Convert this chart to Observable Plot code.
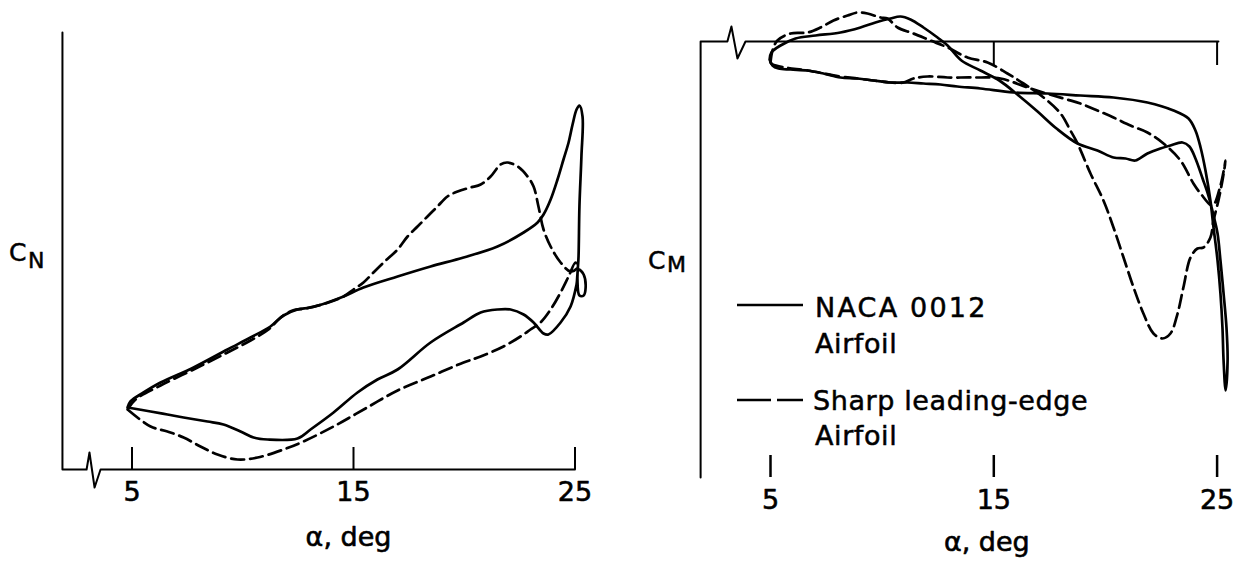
<!DOCTYPE html>
<html>
<head>
<meta charset="utf-8">
<script src="https://cdn.jsdelivr.net/npm/d3@7"></script>
<script src="https://cdn.jsdelivr.net/npm/@observablehq/plot@0.6"></script>
<style>
  html, body { margin: 0; padding: 0; background: #fff; }
  #wrap { position: relative; width: 1233px; height: 563px; overflow: hidden;
          font-family: "DejaVu Sans", sans-serif; color: #000; }
  #left, #right { position: absolute; top: 0; }
  #left { left: 0; }
  #right { left: 620px; }
  .t { position: absolute; white-space: nowrap; line-height: 1; -webkit-text-stroke: 0.5px #000; }
  .big { font-size: 27px; letter-spacing: 0.6px; }
  .sym { font-size: 25px; }
  .sub { font-size: 22px; }
</style>
</head>
<body>
<div id="wrap">
  <div id="left"></div>
  <div id="right"></div>
  <div class="t sym" style="left:9px;top:240px;">C</div>
  <div class="t sub" style="left:28px;top:250px;">N</div>
  <div class="t sym" style="left:648px;top:248px;">C</div>
  <div class="t sub" style="left:667px;top:254px;">M</div>
  <svg class="t" style="left:735px;top:295px;" width="72" height="20">
    <line x1="2" y1="10" x2="68" y2="10" stroke="#000" stroke-width="2.6"/>
  </svg>
  <div class="t big" id="lg1a" style="left:815px;top:294px;letter-spacing:2.2px;"></div>
  <div class="t big" id="lg1b" style="left:815px;top:330px;"></div>
  <svg class="t" style="left:735px;top:390px;" width="72" height="20">
    <line x1="2" y1="10" x2="68" y2="10" stroke="#000" stroke-width="2.6" stroke-dasharray="34,6"/>
  </svg>
  <div class="t big" id="lg2a" style="left:813px;top:387px;"></div>
  <div class="t big" id="lg2b" style="left:815px;top:422px;"></div>
</div>
<script>
// ---- data ----
const alphaTicks = [5, 15, 25];
const xLabel = "α, deg";
const legendLines = [["NACA 0012", "Airfoil"], ["Sharp leading-edge", "Airfoil"]];

// Left panel: normal-force coefficient loop, NACA 0012 (solid)
const cnAlphaSolid = [4.80,4.93,5.52,6.29,7.78,9.31,10.35,11.25,11.84,12.47,13.06,13.83,14.55,15.45,16.99,18.48,19.97,21.50,22.68,23.31,23.58,23.90,24.21,24.48,24.71,24.89,25.07,25.20,25.34,25.29,25.20,25.16,25.11,25.20,25.39,25.48,25.39,25.16,25.07,24.80,24.35,23.80,23.58,23.13,22.68,22.09,21.50,20.74,19.97,18.48,16.99,16.08,15.18,14.10,13.06,12.47,11.12,10.49,9.90,9.13,8.41,7.33,6.60,5.84,4.80];
const cnSolid = [0.31,0.34,0.385,0.435,0.51,0.60,0.66,0.715,0.77,0.80,0.81,0.835,0.865,0.91,0.965,1.015,1.06,1.115,1.185,1.235,1.275,1.35,1.45,1.55,1.635,1.725,1.80,1.82,1.765,1.565,1.315,1.065,0.95,0.87,0.87,0.91,0.975,1.00,0.925,0.815,0.735,0.675,0.68,0.735,0.775,0.80,0.80,0.785,0.735,0.635,0.50,0.45,0.385,0.285,0.20,0.155,0.15,0.16,0.19,0.225,0.24,0.26,0.275,0.29,0.31];
// Left panel: sharp leading-edge airfoil (dashed)
const cnAlphaDashed = [4.80,5.16,6.29,7.78,9.22,10.35,11.16,11.71,12.25,12.83,13.74,14.55,15.00,15.45,15.90,16.36,16.99,17.44,17.89,18.34,18.79,19.24,19.70,20.28,20.74,21.19,21.64,21.95,22.41,22.86,23.13,23.35,23.58,23.90,24.35,24.80,25.11,25.02,24.71,24.35,23.90,23.44,22.99,22.54,21.77,20.74,19.97,18.48,16.99,15.54,14.10,12.74,11.84,10.67,9.76,8.86,8.09,7.33,6.60,5.84,4.80];
const cnDashed = [0.30,0.35,0.42,0.50,0.58,0.645,0.70,0.76,0.795,0.805,0.83,0.865,0.90,0.935,0.985,1.035,1.10,1.165,1.215,1.265,1.315,1.365,1.39,1.41,1.425,1.465,1.525,1.535,1.515,1.465,1.415,1.315,1.20,1.115,1.035,0.99,1.01,1.035,0.965,0.885,0.80,0.735,0.70,0.665,0.615,0.565,0.535,0.465,0.395,0.305,0.215,0.14,0.10,0.06,0.05,0.075,0.115,0.16,0.19,0.215,0.30];

// Right panel: pitching-moment coefficient loop, NACA 0012 (solid)
const cmAlphaSolid = [4.96,5.09,5.36,5.90,6.66,7.37,8.13,8.90,9.61,10.37,11.13,11.85,12.61,13.37,14.40,15.88,17.40,18.88,20.36,21.88,23.05,23.72,24.03,24.26,24.48,24.70,24.84,25.02,25.15,25.24,25.29,25.38,25.47,25.42,25.29,25.15,25.02,24.84,24.61,24.35,24.03,23.76,23.45,22.91,22.46,21.88,21.34,20.90,20.36,19.64,18.75,17.81,16.96,16.11,15.25,14.40,13.55,12.93,12.48,11.85,11.27,10.82,10.37,9.70,9.03,8.13,7.02,6.12,5.45,5.04,4.96];
const cmSolid = [-0.036,-0.048,-0.054,-0.056,-0.058,-0.064,-0.072,-0.074,-0.078,-0.082,-0.082,-0.084,-0.086,-0.090,-0.094,-0.102,-0.104,-0.108,-0.112,-0.122,-0.138,-0.154,-0.178,-0.212,-0.258,-0.318,-0.372,-0.438,-0.504,-0.572,-0.638,-0.698,-0.638,-0.572,-0.504,-0.438,-0.384,-0.348,-0.308,-0.274,-0.234,-0.210,-0.202,-0.208,-0.214,-0.224,-0.238,-0.234,-0.232,-0.218,-0.204,-0.174,-0.140,-0.108,-0.078,-0.058,-0.038,-0.008,0.008,0.028,0.044,0.050,0.046,0.038,0.028,0.018,0.012,0.006,-0.008,-0.022,-0.036];
// Right panel: sharp leading-edge airfoil (dashed)
const cmAlphaDashed = [5.00,5.09,5.31,5.90,6.66,7.24,7.82,8.45,8.90,9.34,9.93,10.24,10.69,11.40,12.16,12.93,13.82,14.72,15.61,16.33,17.23,17.99,18.43,18.75,19.33,19.91,20.36,20.81,21.26,21.70,22.15,22.55,22.91,23.23,23.49,23.81,24.12,24.39,24.70,24.84,25.06,25.24,25.38,25.15,24.79,24.26,23.94,23.36,22.60,21.88,21.12,20.36,19.64,18.88,18.12,16.64,15.30,14.09,12.93,12.03,11.40,10.96,10.37,9.61,8.90,8.13,6.66,5.67,5.09,5.00];
const cmDashed = [-0.042,-0.018,0.002,0.016,0.018,0.028,0.042,0.052,0.058,0.056,0.048,0.046,0.028,0.016,0.002,-0.012,-0.032,-0.042,-0.064,-0.084,-0.112,-0.144,-0.178,-0.204,-0.264,-0.318,-0.372,-0.432,-0.492,-0.544,-0.584,-0.594,-0.584,-0.544,-0.492,-0.432,-0.414,-0.412,-0.392,-0.358,-0.318,-0.278,-0.238,-0.288,-0.328,-0.304,-0.284,-0.238,-0.204,-0.182,-0.168,-0.152,-0.138,-0.124,-0.114,-0.094,-0.074,-0.072,-0.072,-0.070,-0.074,-0.082,-0.082,-0.078,-0.074,-0.070,-0.058,-0.052,-0.046,-0.042];

// Axis outlines with the broken-axis zigzag (alpha, coefficient)
const cnAxisAlpha = [1.86,1.86,2.95,3.08,3.31,3.58,25.0];
const cnAxisValue = [2.185,0,0,0.085,-0.09,0,0];
const cmAxisAlpha = [1.87,1.87,3.07,3.25,3.52,3.88,25.06];
const cmAxisValue = [-0.872,0,0,0.030,-0.034,0,0];
const cmTopTicks = [15, 25];

// ---- build ----
const zip = (xs, ys) => xs.map((x, i) => ({a: x, v: ys[i]}));
const font = '"DejaVu Sans", sans-serif';
const lw = 2.7, dash = "13,6";
const txt = {fill: "#000", stroke: "#000", strokeWidth: 0.6, fontSize: 27};

const left = Plot.plot({
  width: 620, height: 563,
  marginLeft: 62, marginRight: 0, marginTop: 32, marginBottom: 94,
  x: {domain: [5, 25], range: [131.5, 574.5], axis: null},
  y: {domain: [0, 2.2], range: [469, 29], axis: null},
  style: {fontFamily: font, background: "white", overflow: "visible", color: "#000"},
  marks: [
    Plot.line(zip(cnAxisAlpha, cnAxisValue), {x: "a", y: "v", stroke: "#000", strokeWidth: 2}),
    Plot.ruleX(alphaTicks, {x: d => d, y1: 0, y2: 0.11, stroke: "#000", strokeWidth: 2}),
    Plot.text(alphaTicks, {x: d => d, frameAnchor: "bottom", dy: 31, text: d => String(d), ...txt}),
    Plot.text([xLabel], {x: alphaTicks[1], frameAnchor: "bottom", dy: 76, dx: -5, text: d => d, ...txt}),
    Plot.line(zip(cnAlphaSolid, cnSolid), {x: "a", y: "v", stroke: "#000", strokeWidth: lw, curve: "catmull-rom", strokeLinejoin: "round"}),
    Plot.line(zip(cnAlphaDashed, cnDashed), {x: "a", y: "v", stroke: "#000", strokeWidth: lw, strokeDasharray: dash, curve: "catmull-rom", strokeLinejoin: "round"})
  ]
});
document.getElementById("left").appendChild(left);

const right = Plot.plot({
  width: 613, height: 563,
  marginLeft: 80, marginRight: 0, marginTop: 41, marginBottom: 86,
  x: {domain: [5, 25], range: [150, 596.6], axis: null},
  y: {domain: [0.1, -0.9], range: [-9, 491], axis: null},
  style: {fontFamily: font, background: "white", overflow: "visible", color: "#000"},
  marks: [
    Plot.line(zip(cmAxisAlpha, cmAxisValue), {x: "a", y: "v", stroke: "#000", strokeWidth: 2}),
    Plot.ruleX(cmTopTicks, {x: d => d, y1: 0, y2: -0.048, stroke: "#000", strokeWidth: 2}),
    Plot.ruleX(alphaTicks, {x: d => d, y1: -0.828, y2: -0.872, stroke: "#000", strokeWidth: 2.5}),
    Plot.text(alphaTicks, {x: d => d, frameAnchor: "bottom", dy: 31, text: d => String(d), ...txt}),
    Plot.text([xLabel], {x: alphaTicks[1], frameAnchor: "bottom", dy: 73, dx: -7, text: d => d, ...txt}),
    Plot.line(zip(cmAlphaSolid, cmSolid), {x: "a", y: "v", stroke: "#000", strokeWidth: lw, curve: "catmull-rom", strokeLinejoin: "round"}),
    Plot.line(zip(cmAlphaDashed, cmDashed), {x: "a", y: "v", stroke: "#000", strokeWidth: lw, strokeDasharray: dash, curve: "catmull-rom", strokeLinejoin: "round"})
  ]
});
document.getElementById("right").appendChild(right);

document.getElementById("lg1a").textContent = legendLines[0][0];
document.getElementById("lg1b").textContent = legendLines[0][1];
document.getElementById("lg2a").textContent = legendLines[1][0];
document.getElementById("lg2b").textContent = legendLines[1][1];
</script>
</body>
</html>
